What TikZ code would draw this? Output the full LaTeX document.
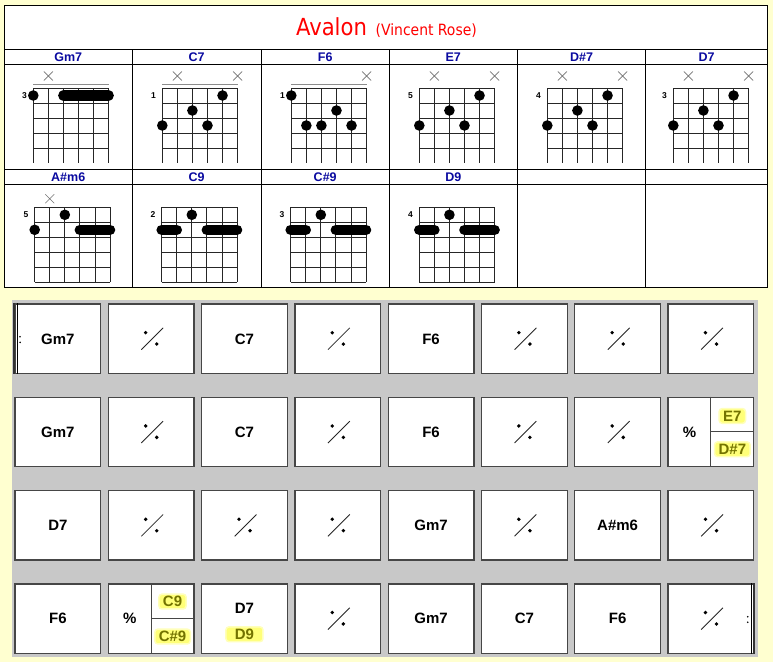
\documentclass[tikz,border=0pt]{standalone}
\usepackage{fontspec}
\setmainfont{DejaVu Sans Condensed}
\newfontfamily\barfont{Liberation Sans}
\usetikzlibrary{positioning, calc}

\definecolor{pagebg}{RGB}{255,255,208}
\definecolor{chordblue}{RGB}{10,10,160}
\definecolor{bargray}{RGB}{200,200,200}
\definecolor{celledge}{RGB}{70,70,70}
\definecolor{hilite}{RGB}{255,255,120}
\definecolor{hitext}{RGB}{115,115,0}

% chord box: #1 name, #2,#3 top left of grid, #4 fret number, #5 last fret line, #6 fingering
\newcommand\chordbox[6]{%
  \begin{scope}[shift={(#2,#3)}, x=15.06pt, y=-15pt]
    \foreach \s in {0,...,5}
      \draw[fretline] (\s,0) -- (\s,5);
    \foreach \f in {0,...,#5}
      \draw[fretline] (0,\f) -- (5,\f);
    \node[fretno] (fret-#1) at (-0.58,0.5) {#4};
    #6
  \end{scope}}
\newcommand\fdot[2]{\fill ({#1},{#2-0.5}) circle[radius=5.3pt];}
\newcommand\fbarre[3]{\draw[barre] ({#1},{#3-0.5}) -- ({#2},{#3-0.5});}
\newcommand\fmute[1]{\draw[mute] (#1,\mutelevel) ++(-4.5pt,-4.5pt) -- ++(9pt,9pt)
  (#1,\mutelevel) ++(-4.5pt,4.5pt) -- ++(9pt,-9pt);}
% repeat-the-bar mark
\newcommand\simile[1]{%
  \draw[simline] ([shift={(-9.8,11)}]#1.center) -- ([shift={(12,-10.8)}]#1.center);
  \fill ([shift={(-5.5,-6)}]#1.center) circle[radius=1.9pt];
  \fill ([shift={(5.6,5.4)}]#1.center) circle[radius=1.9pt];}

\begin{document}
\begin{tikzpicture}[x=1pt, y=-1pt,
    tabline/.style={draw=black, line width=0.9pt},
    chordname/.style={anchor=base, text=chordblue, font=\barfont\bfseries\fontsize{12.5}{14}\selectfont},
    fretline/.style={draw=black!85, line width=0.8pt},
    nutline/.style={draw=black!45, line width=0.7pt},
    fretno/.style={font=\barfont\bfseries\fontsize{8.5}{10}\selectfont, inner sep=0pt},
    barre/.style={line width=10.6pt, line cap=round},
    mute/.style={draw=black!55, line width=0.6pt},
    barcell/.style={draw=celledge, fill=white, line width=1.3pt, minimum width=85.7pt, minimum height=69.3pt, inner sep=0pt},
    barlabel/.style={font=\barfont\bfseries\fontsize{15}{18}\selectfont, text height=10.8pt, text depth=0pt, inner sep=0pt},
    hilabel/.style={barlabel, text=hitext, fill=hilite, draw=hilite!50!white, line width=1.5pt, rounded corners=3pt, inner xsep=4pt, inner ysep=2pt},
    simline/.style={draw=black!85, line width=0.85pt},
    splitline/.style={draw=celledge, line width=1pt}]

    \useasboundingbox (0,0) rectangle (773,662);
    \fill[pagebg] (0,0) rectangle (773,662);

    % Chord table frame
    \draw[tabline, fill=white] (4,5) rectangle (767.3,287.3);
    \foreach \y in {49,64,169,184}
      \draw[tabline] (4,\y) -- (767.3,\y);
    \foreach \x in {132.3,261,389.3,517.3,645.7}
      \draw[tabline] (\x,49) -- (\x,287.3);

    % Title
    \node[anchor=base, text=red, inner sep=0pt] (title) at (386.5,35.7)
      {\fontsize{23.5}{28}\selectfont Avalon\hspace{2pt} \fontsize{15.5}{18}\selectfont(Vincent Rose)};

    % Chord names
    \foreach \x/\lbl [count=\i] in {68.2/Gm7, 196.7/C7, 325.2/F6, 453.3/E7, 581.5/D\#7, 706.5/D7}
      \node[chordname] (top\i) at (\x,61) {\lbl};
    \foreach \x/\lbl [count=\i] in {68.2/A\#m6, 196.7/C9, 325.2/C\#9, 453.3/D9}
      \node[chordname] (low\i) at (\x,181) {\lbl};

    % First row of chord boxes
    \def\mutelevel{-0.8}
    \chordbox{gm7}{33.3}{88}{3}{4}{\draw[nutline] (0,-0.27) -- (5,-0.27);
      \fmute{1} \fdot{0}{1} \fbarre{2}{5}{1}}
    \chordbox{c7}{162.3}{88}{1}{4}{\draw[nutline] (0,-0.27) -- (5,-0.27);
      \fmute{1} \fmute{5} \fdot{4}{1} \fdot{2}{2} \fdot{0}{3} \fdot{3}{3}}
    \chordbox{f6}{291.3}{88}{1}{4}{\draw[nutline] (0,-0.27) -- (5,-0.27);
      \fmute{5} \fdot{0}{1} \fdot{3}{2} \fdot{1}{3} \fdot{2}{3} \fdot{4}{3}}
    \chordbox{e7}{419.3}{88}{5}{4}{\fmute{1} \fmute{5} \fdot{4}{1} \fdot{2}{2} \fdot{0}{3} \fdot{3}{3}}
    \chordbox{ds7}{547.3}{88}{4}{4}{\fmute{1} \fmute{5} \fdot{4}{1} \fdot{2}{2} \fdot{0}{3} \fdot{3}{3}}
    \chordbox{d7}{673.3}{88}{3}{4}{\fmute{1} \fmute{5} \fdot{4}{1} \fdot{2}{2} \fdot{0}{3} \fdot{3}{3}}

    % Second row of chord boxes
    \def\mutelevel{-0.57}
    \chordbox{asm6}{34.7}{207.3}{5}{5}{\fmute{1} \fdot{2}{1} \fdot{0}{2} \fbarre{3}{5}{2}}
    \chordbox{c9}{161.7}{207.3}{2}{5}{\fdot{2}{1} \fbarre{0}{1}{2} \fbarre{3}{5}{2}}
    \chordbox{cs9}{290.7}{207.3}{3}{5}{\fdot{2}{1} \fbarre{0}{1}{2} \fbarre{3}{5}{2}}
    \chordbox{d9}{419.3}{207.3}{4}{5}{\fdot{2}{1} \fbarre{0}{1}{2} \fbarre{3}{5}{2}}

    % Chart of bars
    \fill[bargray] (12.3,300) rectangle (758.3,657.3);
    \foreach \r in {0,...,3}
      \foreach \c in {0,...,7}
        \node[barcell] (b\r\c) at ({57.85+93.3*\c},{338.65+93.3*\r}) {};

    % Repeat signs
    \draw[line width=2pt, black!80] (b00.north west) -- (b00.south west);
    \draw[line width=0.8pt] ([xshift=2.8pt]b00.north west) -- ([xshift=2.8pt]b00.south west);
    \fill ([shift={(5.7,-1.9)}]b00.west) circle[radius=0.9pt];
    \fill ([shift={(5.7,3.7)}]b00.west) circle[radius=0.9pt];
    \draw[line width=2pt, black!80] (b37.north east) -- (b37.south east);
    \draw[line width=0.8pt] ([xshift=-3pt]b37.north east) -- ([xshift=-3pt]b37.south east);
    \fill ([shift={(-6.7,-1.9)}]b37.east) circle[radius=0.9pt];
    \fill ([shift={(-6.7,3.7)}]b37.east) circle[radius=0.9pt];

    % Chords in the bars
    \node[barlabel] (lab00) at (b00) {Gm7};
    \node[barlabel] (lab02) at (b02) {C7};
    \node[barlabel] (lab04) at (b04) {F6};
    \node[barlabel] (lab10) at (b10) {Gm7};
    \node[barlabel] (lab12) at (b12) {C7};
    \node[barlabel] (lab14) at (b14) {F6};
    \node[barlabel] (lab20) at (b20) {D7};
    \node[barlabel] (lab24) at (b24) {Gm7};
    \node[barlabel] (lab26) at (b26) {A\#m6};
    \node[barlabel] (lab30) at (b30) {F6};
    \node[barlabel] (lab34) at (b34) {Gm7};
    \node[barlabel] (lab35) at (b35) {C7};
    \node[barlabel] (lab36) at (b36) {F6};

    \foreach \cell in {b01,b03,b05,b06,b07,b11,b13,b15,b16,b21,b22,b23,b25,b27,b33,b37}
      {\simile{\cell}}

    % Split bars
    \draw[splitline] (b17.north) -- (b17.south) (b17.center) -- (b17.east);
    \node[barlabel] (pct17) at ([xshift=-21.4pt]b17.center) {\%};
    \node[hilabel] (lab17a) at ([shift={(21.4,-16)}]b17.center) {E7};
    \node[hilabel] (lab17b) at ([shift={(21.4,17.3)}]b17.center) {D\#7};

    \draw[splitline] (b31.north) -- (b31.south) (b31.center) -- (b31.east);
    \node[barlabel] (pct31) at ([xshift=-21.4pt]b31.center) {\%};
    \node[hilabel] (lab31a) at ([shift={(21.4,-17)}]b31.center) {C9};
    \node[hilabel] (lab31b) at ([shift={(21.4,18)}]b31.center) {C\#9};

    \node[barlabel] (lab32a) at ([yshift=10.3pt]b32.center) {D7};
    \node[hilabel, minimum width=37pt] (lab32b) at ([shift={(0,15.7)}]b32.center) {D9};

\end{tikzpicture}
\end{document}
